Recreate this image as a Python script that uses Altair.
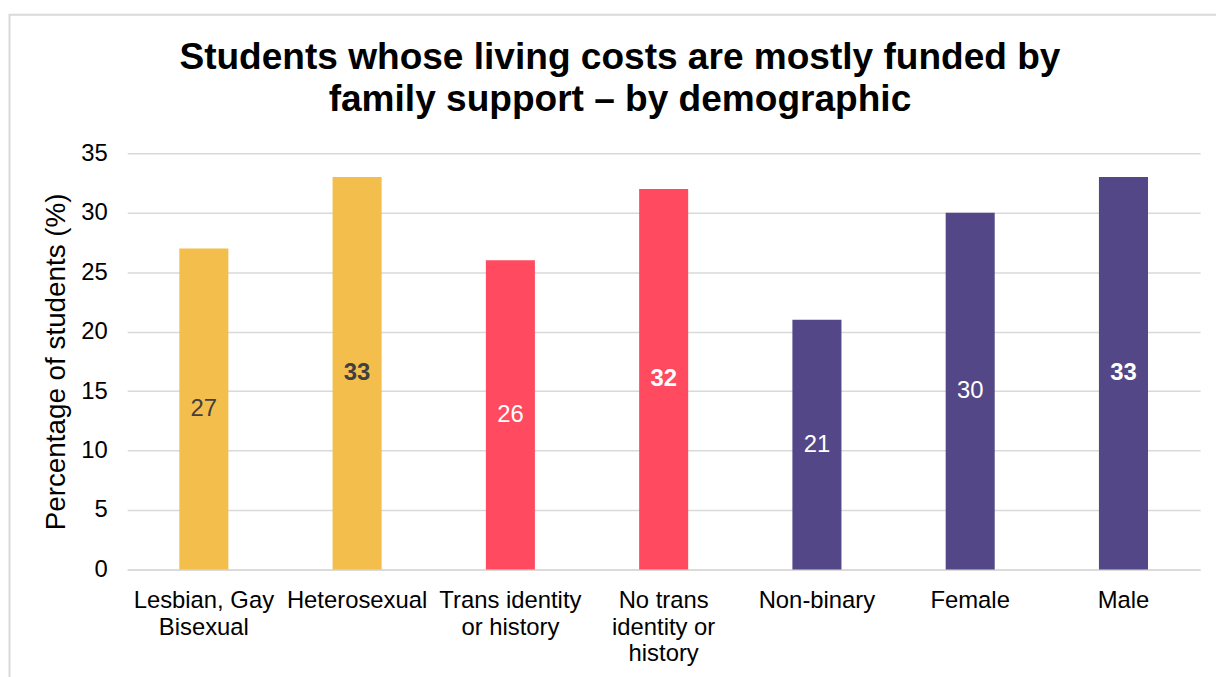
import altair as alt
import pandas as pd

categories = ["Lesbian, Gay|Bisexual", "Heterosexual", "Trans identity|or history",
              "No trans|identity or|history", "Non-binary", "Female", "Male"]
values = [27, 33, 26, 32, 21, 30, 33]
groups = ["Sexuality", "Sexuality", "Trans", "Trans", "Gender", "Gender", "Gender"]
highlight = [False, True, False, True, False, False, True]

df = pd.DataFrame({"cat": categories, "val": values, "grp": groups, "hl": highlight})
df["half"] = df["val"] / 2

grp_domain = ["Sexuality", "Trans", "Gender"]
bar_colors = ["#F4BE4C", "#FF4A5F", "#544787"]
text_colors = ["#404040", "#FFFFFF", "#FFFFFF"]

FONT = "Liberation Sans"

x = alt.X("cat:N", sort=categories, title=None,
          scale=alt.Scale(paddingInner=0.68, paddingOuter=0.34),
          axis=alt.Axis(labelAngle=0, labelExpr="split(datum.label, '|')",
                        labelFontSize=24, labelColor="#000000", labelFont=FONT,
                        labelLineHeight=27, labelPadding=19, ticks=False,
                        domainColor="#d9d9d9", domainWidth=1.5, labelLimit=300,
                        labelBaseline="top"))

base = alt.Chart(df)

bars = base.mark_bar().encode(
    x=x,
    y=alt.Y("val:Q", scale=alt.Scale(domain=[0, 35]), title="Percentage of students (%)",
            axis=alt.Axis(values=[0, 5, 10, 15, 20, 25, 30, 35], labelFontSize=24,
                          labelFont=FONT, labelColor="#000000", titleFontSize=28,
                          titleFont=FONT, titleFontWeight="normal", titleColor="#000000",
                          titlePadding=10, labelPadding=20, ticks=False, domain=False,
                          gridColor="#d9d9d9", gridWidth=1.5)),
    color=alt.Color("grp:N", scale=alt.Scale(domain=grp_domain, range=bar_colors), legend=None),
)


def label_layer(weight, flag):
    return base.transform_filter(
        "datum.hl" if flag else "!datum.hl"
    ).mark_text(fontSize=24, font=FONT, fontWeight=weight).encode(
        x=alt.X("cat:N", sort=categories),
        y=alt.Y("half:Q"),
        text=alt.Text("val:Q"),
        color=alt.Color("grp:N", scale=alt.Scale(domain=grp_domain, range=text_colors), legend=None),
    )


labels_normal = label_layer("normal", False)
labels_bold = label_layer("bold", True)

frame = alt.Chart(pd.DataFrame({"a": [0]})).mark_rect(
    fill=None, stroke="#d9d9d9", strokeWidth=2
).encode(x=alt.value(-118.5), x2=alt.value(1300), y=alt.value(-139.5), y2=alt.value(700))

chart = alt.layer(frame, bars, labels_normal, labels_bold).resolve_scale(
    color="independent"
).properties(
    width=1080, height=419,
    title=alt.TitleParams(
        text=["Students whose living costs are mostly funded by",
              "family support \u2013 by demographic"],
        fontSize=37.3, font=FONT, fontWeight="bold", color="#000000",
        lineHeight=42, anchor="middle", frame="group", baseline="alphabetic",
        dx=-44, dy=135, offset=0),
    autosize=alt.AutoSizeParams(type="none"),
    padding={"left": 120, "top": 144, "right": 16, "bottom": 106},
).configure_view(stroke=None)

chart.save("out.html", embed_options={"renderer": "svg", "actions": False})
